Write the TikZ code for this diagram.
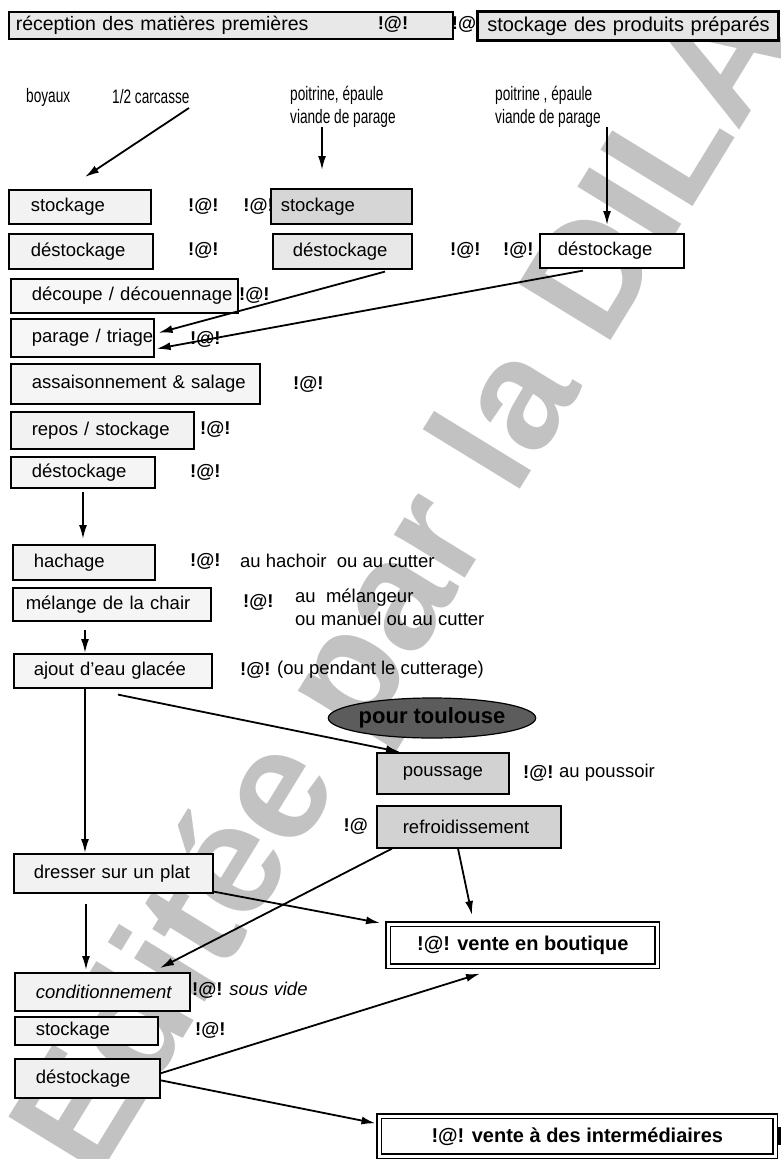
\documentclass[tikz,border=0pt]{standalone}
\usepackage{fontspec}
\setmainfont{Liberation Sans}
\newfontfamily\condf[FakeStretch=0.7]{Liberation Sans}
\usetikzlibrary{arrows.meta,shapes.geometric,calc}
\newcommand\bodyfs{\fontsize{18.5}{21}\selectfont}
\newcommand\labfs{\condf\fontsize{19.5}{21}\selectfont}
\begin{document}
\begin{tikzpicture}[x=1pt,y=-1pt,
  bx/.style={draw=black, line width=1.6pt, fill=#1, inner xsep=0pt, inner ysep=0pt,
    anchor=north west, align=left, font=\bodyfs},
  dbx/.style={draw=black, double=white, double distance=2.6pt, line width=1.6pt,
    inner sep=0pt, anchor=north west, font=\fontsize{20}{22}\selectfont\bfseries},
  lab/.style={inner sep=0pt, anchor=west, font=\bodyfs},
  top/.style={inner sep=0pt, anchor=west, font=\labfs},
  mk/.style={inner sep=0pt, anchor=west, font=\bodyfs\bfseries},
  arr/.style={-{Latex[length=14pt,width=8pt]}, line width=1.8pt}]
\useasboundingbox (0,0) rectangle (781,1159);
\fill[white] (0,0) rectangle (781,1159);
% watermark
\node[inner sep=0pt, anchor=base, rotate=58.5, text=black!24,
  font=\fontsize{157}{157}\selectfont\bfseries] (wm) at (446,610) {Editée par la DILA};

% top row
\node[bx=gray!18, text width=444pt, minimum height=27pt, font=\fontsize{19.5}{21}\selectfont] (rec) at (8,11)
  {\hspace*{7pt}réception des matières premières};
\node[mk, anchor=center] (m0) at (393,24.5) {!@!};
\node[mk, anchor=center] (m00) at (464,24.5) {!@};
\node[bx=gray!20, line width=2.6pt, text width=301pt, minimum height=29pt, font=\fontsize{20}{22}\selectfont] (spp) at (476,10)
  {\hspace*{10pt}stockage des produits préparés};

% raw material labels
\node[top] (boy) at (26,97) {boyaux};
\node[top] (carc) at (112,97) {1/2 carcasse};
\node[top] (p1) at (290,95) {poitrine, épaule};
\node[top] (v1) at (290,118) {viande de parage};
\node[top] (p2) at (495,95) {poitrine , épaule};
\node[top] (v2) at (495,118) {viande de parage};

% storage rows
\node[bx=gray!10, text width=142pt, minimum height=34pt] (stA) at (8,189) {\hspace*{22pt}stockage};
\node[mk] (m1) at (188,206) {!@!};
\node[bx=gray!32, text width=141pt, minimum height=35pt] (stB) at (270,188) {\hspace*{10pt}stockage};
\node[mk, anchor=east] (m2) at ($(stB.west)+(4,0)$) {!@!};

\node[bx=gray!10, text width=144pt, minimum height=35pt] (dA) at (8,233) {\hspace*{22pt}déstockage};
\node[mk] (m3) at (188,250) {!@!};
\node[bx=gray!18, text width=139pt, minimum height=35pt] (dB) at (272,233) {\hspace*{20pt}déstockage};
\node[mk] (m4) at (450,250) {!@!};
\node[mk] (m5) at (503,250) {!@!};
\node[bx=white, text width=144pt, minimum height=34pt] (dC) at (539,233) {\hspace*{18pt}déstockage};

\node[bx=gray!6, text width=227pt, minimum height=34pt] (dec) at (10,278) {\hspace*{21pt}découpe / découennage};
\node[mk] (m6) at (239,295) {!@!};
\node[bx=gray!6, text width=143pt, minimum height=38pt] (par) at (10,318) {\hspace*{21pt}parage / triage};
\node[mk] (m7) at (190,339) {!@!};
\node[bx=gray!8, text width=249pt, minimum height=40pt] (ass) at (10,363) {\hspace*{21pt}assaisonnement \& salage};
\node[mk] (m8) at (293,384) {!@!};
\node[bx=gray!10, text width=183pt, minimum height=37pt] (rep) at (10,411) {\hspace*{21pt}repos / stockage};
\node[mk] (m9) at (200,429) {!@!};
\node[bx=gray!8, text width=144pt, minimum height=31pt] (dD) at (10,456) {\hspace*{21pt}déstockage};
\node[mk] (m10) at (190,472) {!@!};

\node[bx=gray!10, text width=142pt, minimum height=35pt] (hach) at (12,544) {\hspace*{21pt}hachage};
\node[mk] (m11) at (190,561) {!@!};
\node[lab] (t11) at (240,561) {au hachoir\ \ ou au cutter};
\node[bx=gray!8, text width=198pt, minimum height=33pt] (mel) at (12,587) {\hspace*{13pt}mélange de la chair};
\node[mk] (m12) at (243,602) {!@!};
\node[lab] (t12a) at (295,598) {au\ \ mélangeur};
\node[lab] (t12b) at (295,619) {ou manuel ou au cutter};
\node[bx=gray!8, text width=198pt, minimum height=34pt] (ajout) at (13,653) {\hspace*{20pt}ajout d'eau glacée};
\node[mk] (m13) at (240,670) {!@!};
\node[lab] (t13) at (277,670) {(ou pendant le cutterage)};

\node[ellipse, draw=black, line width=1.2pt, fill=black!64, minimum width=174pt, minimum height=40pt, inner sep=0pt,
  font=\fontsize{22}{24}\selectfont\bfseries] (toul) at (432,718) {pour toulouse};
\node[bx=gray!35, text width=132pt, minimum height=41pt] (pous) at (376,752) {\hspace*{26pt}poussage};
\node[mk] (m14) at (523,773) {!@!};
\node[lab] (t14) at (559,773) {au poussoir};
\node[bx=gray!35, text width=184pt, minimum height=42pt] (refr) at (376,805) {\hspace*{26pt}refroidissement};
\node[mk, anchor=east] (m15) at ($(refr.west)+(-8,0)$) {!@};
\node[bx=gray!10, text width=199pt, minimum height=39pt] (dres) at (13,853) {\hspace*{20pt}dresser sur un plat};

\node[dbx, minimum width=269pt, minimum height=42pt] (vb) at (387.5,923.5) {!@! vente en boutique};
\node[bx=gray!10, text width=175pt, minimum height=38pt] (cond) at (14,972) {\hspace*{21pt}\itshape conditionnement};
\node[lab] (t16) at (192,990) {\textbf{!@!} \textit{sous vide}};
\node[bx=gray!10, text width=143pt, minimum height=28pt] (stE) at (14,1016) {\hspace*{21pt}stockage};
\node[mk] (m17) at (195,1030) {!@!};
\node[bx=gray!12, text width=145pt, minimum height=39pt] (dE) at (14,1058) {\hspace*{21pt}déstockage};
\node[dbx, minimum width=396pt, minimum height=40pt] (vi) at (378.5,1115.5) {!@! vente à des intermédiaires};
\fill[black] ($(vi.east)+(2,-9)$) rectangle ($(vi.east)+(7,9)$);

% connectors
\coordinate (c1) at (189,108);
\draw[arr] (c1) -- ($(stA.north west)+(77,-12)$);
\coordinate (v1s) at (322,127);
\draw[arr, shorten >=18pt] (v1s) -- (v1s |- stB.north);
\coordinate (v2s) at (607,127);
\draw[arr, shorten >=8pt] (v2s) -- (v2s |- dC.north);
\draw[arr] ($(dB.south west)+(113,2)$) -- ($(par.east)+(4,-5)$);
\draw[arr] ($(dC.south west)+(44,2)$) -- ($(par.east)+(2,11)$);
\draw[arr] ($(dD.south west)+(73,3)$) -- ($(hach.north west)+(71,-5)$);
\draw[arr] ($(mel.south west)+(73,8)$) -- ($(ajout.north west)+(72,0)$);
\draw[arr] ($(ajout.south west)+(72,0)$) -- ($(dres.north west)+(72,0)$);
\draw[arr] ($(ajout.south west)+(105,6)$) -- ($(pous.north west)+(24,0)$);
\draw[arr] ($(refr.south west)+(82,0)$) -- ($(vb.north west)+(84.5,-8.5)$);
\draw[arr] ($(refr.south west)+(16,0)$) -- ($(cond.north west)+(146,-4)$);
\draw[arr] ($(dres.south east)+(0,-2)$) -- ($(vb.north west)+(-7.5,-0.5)$);
\draw[arr] ($(dres.south west)+(73,10)$) -- ($(cond.north west)+(72,-2)$);
\draw[arr] ($(dE.east)+(0,-5)$) -- ($(vb.south west)+(92.5,6.5)$);
\draw[arr] ($(dE.east)+(0,2)$) -- ($(vi.west)+(-3,-13)$);
\end{tikzpicture}
\end{document}
